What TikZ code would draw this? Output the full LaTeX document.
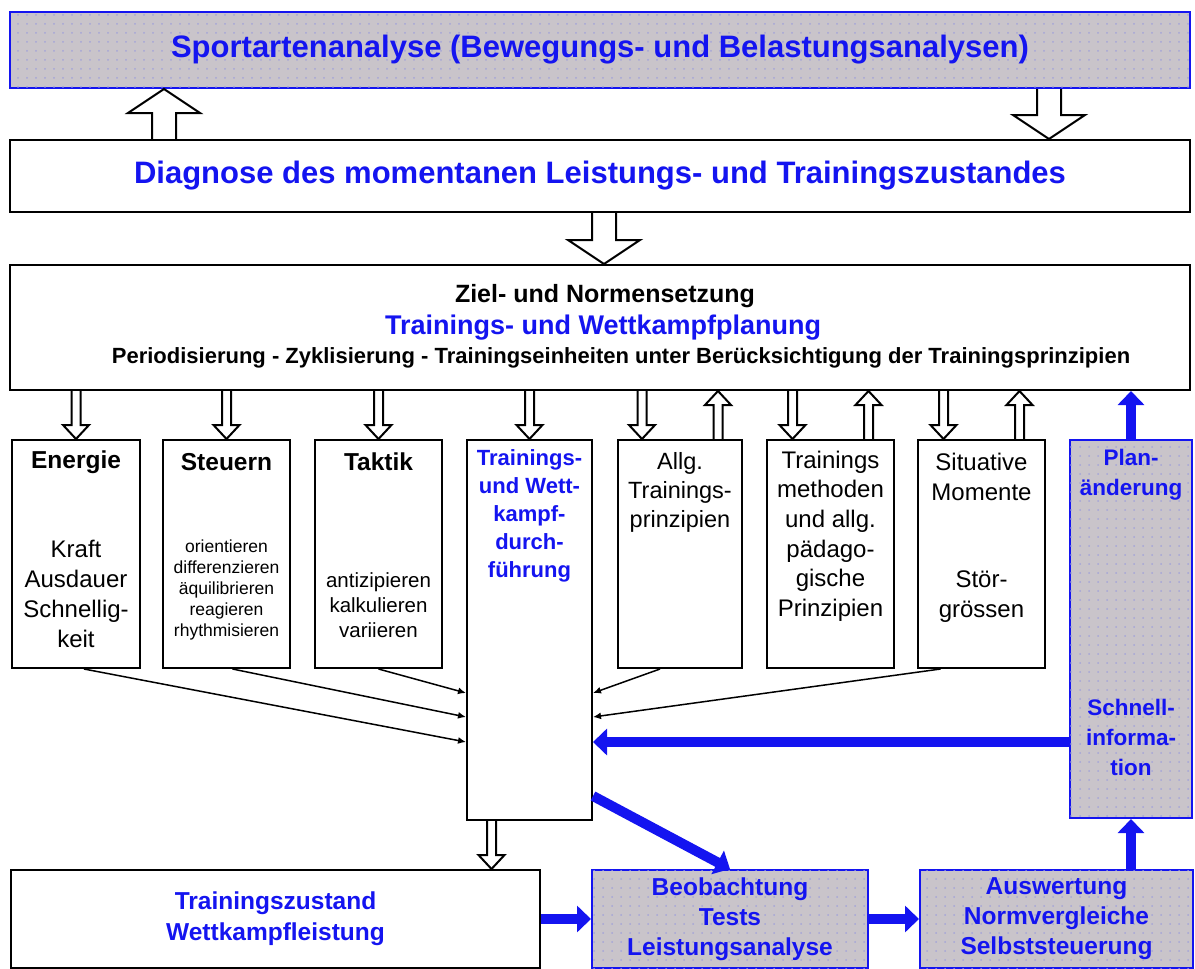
\documentclass[tikz,border=0pt]{standalone}
\usepackage{fontspec}
\setmainfont{Liberation Sans}
\usetikzlibrary{arrows.meta}
\usetikzlibrary{calc}
\usetikzlibrary{patterns.meta}

\definecolor{planblue}{RGB}{20,20,240}
\definecolor{boxgrey}{RGB}{201,196,202}
\definecolor{dotgrey}{RGB}{165,165,215}

\tikzdeclarepattern{
  name=fleck,
  type=uncolored,
  bounding box={(-1pt,-1pt) and (1pt,1pt)},
  tile size={(9pt,9pt)},
  code={\pgfpathcircle{\pgfpointorigin}{1pt}\pgfusepath{fill}}
}

\begin{document}
\begin{tikzpicture}[x=1pt,y=-1pt,
  every node/.style={inner sep=0pt,align=center},
  fs/.style 2 args={font=\fontsize{#1}{#2}\selectfont},
  fsb/.style 2 args={font=\bfseries\fontsize{#1}{#2}\selectfont},
  box/.style={draw,line width=2pt,fill=white},
  greybox/.style={draw=planblue,line width=2pt,fill=boxgrey,
    postaction={pattern=fleck,pattern color=dotgrey}},
  hollow/.style n args={3}{draw,line width=2pt,
    to path={let \p1=(\tikztostart),\p2=(\tikztotarget),\n1={((\y2>\y1)*2-1)} in
      ({\x1-#1},\y1) -- ({\x1-#1},{\y2-(\n1)*#3}) -- ({\x1-#2},{\y2-(\n1)*#3})
      -- (\x1,\y2)
      -- ({\x1+#2},{\y2-(\n1)*#3}) -- ({\x1+#1},{\y2-(\n1)*#3}) -- ({\x1+#1},\y1)}},
  bigpipe/.style={hollow={12pt}{36pt}{24pt}},
  smallpipe/.style={hollow={4.5pt}{13pt}{14pt}},
  push/.style={draw=planblue,line width=10pt,-{Triangle[length=14pt,width=26pt]}},
  feed/.style={line width=1.5pt,-{Latex[length=8pt,width=7pt]}}]
\useasboundingbox (0,0) rectangle (1195,969);

\node[greybox,minimum width=1180pt,minimum height=76pt,text=planblue,fsb={31}{36}] (spa) at (600,50)
  {Sportartenanalyse (Bewegungs- und Belastungsanalysen)};
\node[box,minimum width=1180pt,minimum height=72pt,text=planblue,fsb={31}{36}] (diag) at (600,176)
  {Diagnose des momentanen Leistungs- und Trainingszustandes};
\node[box,minimum width=1180pt,minimum height=125pt] (ziel) at (600,327.5) {};
\node[fsb={25}{30}] (ziel-a) at (605,296) {Ziel- und Normensetzung};
\node[fsb={27}{30},text=planblue] (ziel-b) at (603,328) {Trainings- und Wettkampfplanung};
\node[fsb={22}{26}] (ziel-c) at (621,358)
  {Periodisierung - Zyklisierung - Trainingseinheiten unter Berücksichtigung der Trainingsprinzipien};

\node[box,minimum width=128pt,minimum height=228pt] (energie) at (76,554) {};
\node[fsb={24.5}{30}] (energie-t) at (76,462) {Energie};
\node[fs={24}{30}] (energie-s) at (76,594) {Kraft\\Ausdauer\\Schnellig-\\keit};

\node[box,minimum width=127pt,minimum height=228pt] (steuern) at (226.5,554) {};
\node[fsb={24.5}{30}] (steuern-t) at (226.5,462) {Steuern};
\node[fs={17.5}{21}] (steuern-s) at (226.5,590)
  {orientieren\\differenzieren\\äquilibrieren\\reagieren\\rhythmisieren};

\node[box,minimum width=127pt,minimum height=228pt] (taktik) at (378.5,554) {};
\node[fsb={24.5}{30}] (taktik-t) at (378.5,462) {Taktik};
\node[fs={20.5}{25}] (taktik-s) at (378.5,605) {antizipieren\\kalkulieren\\variieren};

\node[box,minimum width=125pt,minimum height=380pt] (durch) at (529.5,630) {};
\node[fsb={22}{28},text=planblue] (durch-t) at (529.5,516)
  {Trainings-\\und Wett-\\kampf-\\durch-\\führung};

\node[box,minimum width=124pt,minimum height=228pt] (allg) at (680,554) {};
\node[fs={23.5}{29}] (allg-t) at (680,492) {Allg.\\Trainings-\\prinzipien};

\node[box,minimum width=127pt,minimum height=228pt] (methoden) at (830.5,554) {};
\node[fs={24}{29.6}] (methoden-t) at (830.5,536)
  {Trainings\\methoden\\und allg.\\pädago-\\gische\\Prinzipien};

\node[box,minimum width=127pt,minimum height=228pt] (situativ) at (981.5,554) {};
\node[fs={24}{30}] (situativ-t) at (981.5,477) {Situative\\Momente};
\node[fs={24}{30}] (situativ-s) at (981.5,597) {Stör-\\grössen};

\node[greybox,minimum width=122pt,minimum height=378pt] (plan) at (1131,629) {};
\node[fsb={22.5}{30},text=planblue] (plan-t) at (1131,475) {Plan-\\änderung};
\node[fsb={22.5}{30},text=planblue] (schnell) at (1131,737) {Schnell-\\informa-\\tion};

\node[box,minimum width=529pt,minimum height=98pt,text=planblue,fsb={24.5}{31}] (zustand) at (275.5,919)
  {Trainingszustand\\Wettkampfleistung};
\node[greybox,minimum width=276pt,minimum height=98pt,text=planblue,fsb={24.5}{30}] (beob) at (730,919)
  {Beobachtung\\Tests\\Leistungsanalyse};
\node[greybox,minimum width=273pt,minimum height=98pt,text=planblue,fsb={24.5}{30}] (ausw) at (1056.5,919)
  {Auswertung\\Normvergleiche\\Selbststeuerung};

\coordinate (up1) at (164,0);
\coordinate (dn1) at (1049,0);
\coordinate (dn2) at (604,0);
\draw[bigpipe] (diag.north -| up1) to (spa.south -| up1);
\draw[bigpipe] (spa.south -| dn1) to (diag.north -| dn1);
\draw[bigpipe] (diag.south -| dn2) to (ziel.north -| dn2);

\draw[smallpipe] (ziel.south -| energie) to (energie.north);
\draw[smallpipe] (ziel.south -| steuern) to (steuern.north);
\draw[smallpipe] (ziel.south -| taktik) to (taktik.north);
\draw[smallpipe] (ziel.south -| durch) to (durch.north);
\foreach \b in {allg,methoden,situativ}{
  \coordinate (\b-in) at ($(\b.north)+(-38,0)$);
  \coordinate (\b-out) at ($(\b.north)+(38,0)$);
  \draw[smallpipe] (ziel.south -| \b-in) to (\b-in);
  \draw[smallpipe] (\b-out) to (ziel.south -| \b-out);
}
\coordinate (durch-out) at ($(durch.south)+(-38,0)$);
\draw[smallpipe] (durch-out) to (zustand.north -| durch-out);

\draw[feed] ($(energie.south)+(8,0)$) -- ($(durch.west)+(0,112)$);
\draw[feed] ($(steuern.south)+(6,0)$) -- ($(durch.west)+(0,87)$);
\draw[feed] (taktik.south) -- ($(durch.west)+(0,63)$);
\draw[feed] ($(allg.south)+(-20,0)$) -- ($(durch.east)+(0,63)$);
\draw[feed] ($(situativ.south)+(-41,0)$) -- ($(durch.east)+(0,87)$);

\coordinate (fb) at ($(plan.west)+(0,113)$);
\draw[push] (plan.north) -- (ziel.south -| plan.north);
\draw[push] (ausw.north -| plan.south) -- (plan.south);
\draw[push] (fb) -- (durch.east |- fb);
\draw[push] ($(durch.south east)+(0,-25)$) -- (beob.north);
\draw[push] (zustand.east) -- (beob.west);
\draw[push] (beob.east) -- (ausw.west);
\end{tikzpicture}
\end{document}
